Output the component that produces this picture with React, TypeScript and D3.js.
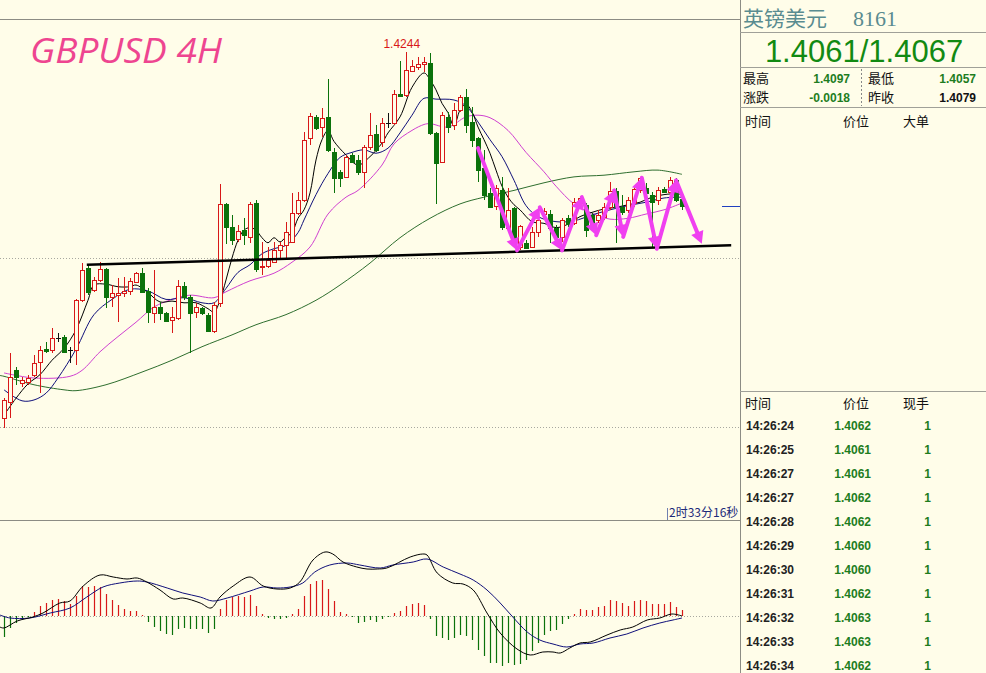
import React from 'react';
import * as d3 from 'd3';

// ---------- price data (GBPUSD 4H candles) ----------
const opens = [1.3811,1.3830,1.3867,1.3852,1.3853,1.3862,1.3877,1.3892,1.3891,1.3905,
1.3907,1.3891,1.3891,1.3950,1.3988,1.3962,1.3974,1.3987,1.3954,1.3956,
1.3959,1.3961,1.3972,1.3982,1.3961,1.3935,1.3942,1.3935,1.3927,1.3929,
1.3967,1.3954,1.3936,1.3941,1.3933,1.3914,1.3947,1.4064,1.4037,1.4022,
1.4033,1.4025,1.4065,1.3989,1.3991,1.3995,1.4009,1.4015,1.4019,1.4053,
1.4069,1.4142,1.4167,1.4155,1.4167,1.4125,1.4102,1.4096,1.4122,1.4116,
1.4102,1.4131,1.4147,1.4137,1.4160,1.4160,1.4194,1.4193,1.4221,1.4226,
1.4230,1.4231,1.4148,1.4114,1.4167,1.4157,1.4175,1.4191,1.4161,1.4142,
1.4107,1.4077,1.4062,1.4080,1.4036,1.4059,1.4013,1.4018,1.4013,1.4031,
1.4052,1.4052,1.4036,1.4025,1.4047,1.4041,1.4065,1.4063,1.4051,1.4045,
1.4049,1.4060,1.4079,1.4060,1.4057,1.4065,1.4080,1.4083,1.4075,1.4069,
1.4082,1.4078,1.4092,1.4070];
const highs = [1.3834,1.3888,1.3871,1.3859,1.3862,1.3885,1.3896,1.3901,1.3917,1.3911,
1.3909,1.3895,1.3952,1.3994,1.3992,1.3978,1.3995,1.3988,1.3968,1.3976,
1.3978,1.3976,1.3983,1.3988,1.3964,1.3986,1.3948,1.3936,1.3942,1.3974,
1.3972,1.3956,1.3947,1.3942,1.3935,1.3948,1.4088,1.4065,1.4051,1.4039,
1.4047,1.4066,1.4069,1.4019,1.4013,1.4019,1.4019,1.4043,1.4077,1.4078,
1.4149,1.4172,1.4169,1.4178,1.4212,1.4130,1.4104,1.4122,1.4124,1.4122,
1.4134,1.4172,1.4157,1.4166,1.4172,1.4199,1.4233,1.4244,1.4234,1.4238,
1.4238,1.4243,1.4149,1.4173,1.4173,1.4183,1.4193,1.4200,1.4179,1.4143,
1.4128,1.4083,1.4086,1.4096,1.4083,1.4060,1.4039,1.4021,1.4037,1.4060,
1.4059,1.4057,1.4039,1.4047,1.4051,1.4071,1.4072,1.4065,1.4053,1.4057,
1.4065,1.4090,1.4083,1.4075,1.4072,1.4084,1.4096,1.4089,1.4078,1.4084,
1.4084,1.4096,1.4095,1.4072];
const lows = [1.3799,1.3811,1.3850,1.3847,1.3850,1.3859,1.3840,1.3888,1.3888,1.3901,
1.3888,1.3876,1.3873,1.3948,1.3956,1.3960,1.3972,1.3941,1.3942,1.3924,
1.3954,1.3956,1.3970,1.3960,1.3923,1.3923,1.3927,1.3924,1.3911,1.3927,
1.3950,1.3888,1.3929,1.3933,1.3912,1.3911,1.3942,1.4017,1.4015,1.4019,
1.4015,1.4018,1.3983,1.3980,1.3988,1.3994,1.4000,1.4000,1.4018,1.4051,
1.4066,1.4134,1.4151,1.4143,1.4125,1.4077,1.4084,1.4095,1.4112,1.4098,
1.4083,1.4128,1.4125,1.4131,1.4154,1.4157,1.4191,1.4191,1.4220,1.4222,
1.4220,1.4146,1.4064,1.4112,1.4148,1.4151,1.4173,1.4148,1.4131,1.4090,
1.4069,1.4059,1.4057,1.4033,1.4031,1.4015,1.4009,1.4011,1.4012,1.4025,
1.4049,1.4018,1.4019,1.4019,1.4037,1.4039,1.4060,1.4025,1.4033,1.4041,
1.4045,1.4057,1.4018,1.4051,1.4053,1.4060,1.4077,1.4072,1.4013,1.4063,
1.4077,1.4072,1.4066,1.4057];
const closes = [1.3832,1.3859,1.3859,1.3856,1.3858,1.3876,1.3891,1.3890,1.3905,1.3905,
1.3889,1.3891,1.3950,1.3986,1.3960,1.3974,1.3987,1.3954,1.3959,1.3959,
1.3961,1.3973,1.3982,1.3960,1.3936,1.3942,1.3935,1.3925,1.3930,1.3967,
1.3954,1.3935,1.3942,1.3935,1.3914,1.3944,1.4064,1.4037,1.4021,1.4032,
1.4027,1.4064,1.3987,1.3991,1.3998,1.4009,1.4015,1.4031,1.4053,1.4069,
1.4140,1.4168,1.4154,1.4166,1.4128,1.4095,1.4095,1.4120,1.4114,1.4102,
1.4131,1.4146,1.4128,1.4160,1.4160,1.4194,1.4192,1.4222,1.4227,1.4230,
1.4232,1.4148,1.4112,1.4169,1.4155,1.4175,1.4191,1.4157,1.4140,1.4104,
1.4075,1.4060,1.4083,1.4037,1.4057,1.4018,1.4038,1.4012,1.4031,1.4045,
1.4056,1.4036,1.4025,1.4045,1.4040,1.4066,1.4071,1.4033,1.4039,1.4051,
1.4060,1.4079,1.4060,1.4054,1.4069,1.4082,1.4095,1.4077,1.4066,1.4080,
1.4078,1.4092,1.4069,1.4062];

// moving averages: [candle index, price]
const ma5: [number, number][] = [[0,1.3814],[2,1.3834],[4,1.3851],[6,1.3862],[8,1.3879],[10,1.3893],[12,1.3915],[14,1.3950],[15,1.3968],[17,1.3969],[19,1.3966],[21,1.3966],[22,1.3968],[24,1.3959],[26,1.3948],[28,1.3949],[30,1.3947],[32,1.3947],[34,1.3940],[35,1.3936],[36,1.3950],[37,1.3974],[38,1.4000],[39,1.4021],[40,1.4033],[41,1.4036],[42,1.4033],[43,1.4024],[44,1.4018],[45,1.4024],[46,1.4019],[47,1.4025],[48,1.4030],[49,1.4047],[50,1.4057],[51,1.4077],[52,1.4116],[53,1.4140],[54,1.4151],[55,1.4138],[57,1.4122],[59,1.4110],[61,1.4120],[63,1.4136],[64,1.4148],[66,1.4167],[68,1.4202],[70,1.4219],[71,1.4211],[72,1.4199],[73,1.4183],[74,1.4172],[75,1.4156],[76,1.4175],[77,1.4182],[78,1.4173],[79,1.4155],[80,1.4140],[81,1.4124],[82,1.4104],[83,1.4085],[84,1.4072],[85,1.4063],[86,1.4057],[88,1.4043],[90,1.4041],[92,1.4036],[94,1.4040],[96,1.4049],[98,1.4054],[100,1.4058],[102,1.4060],[104,1.4063],[106,1.4066],[108,1.4072],[110,1.4075],[112,1.4076],[113,1.4075]];
const ma10: [number, number][] = [[0,1.3844],[3,1.3831],[5,1.3832],[7,1.3840],[9,1.3858],[12,1.3892],[15,1.3933],[18,1.3951],[21,1.3963],[24,1.3961],[27,1.3951],[30,1.3953],[33,1.3947],[35,1.3947],[37,1.3964],[39,1.3983],[41,1.3992],[43,1.4005],[45,1.4011],[47,1.4015],[49,1.4030],[50,1.4045],[52,1.4075],[54,1.4100],[56,1.4119],[58,1.4125],[60,1.4128],[62,1.4124],[64,1.4130],[66,1.4148],[68,1.4169],[70,1.4189],[72,1.4188],[75,1.4187],[77,1.4180],[79,1.4161],[81,1.4140],[83,1.4120],[85,1.4092],[87,1.4062],[89,1.4049],[92,1.4043],[95,1.4044],[98,1.4051],[101,1.4057],[104,1.4062],[107,1.4066],[110,1.4071],[113,1.4072]];
const ma20: [number, number][] = [[0,1.3864],[5,1.3858],[11,1.3860],[13,1.3867],[16,1.3889],[19,1.3907],[22,1.3924],[25,1.3942],[28,1.3951],[31,1.3956],[35,1.3953],[37,1.3960],[41,1.3973],[45,1.3982],[48,1.3995],[51,1.4013],[54,1.4052],[57,1.4072],[59,1.4080],[63,1.4110],[65,1.4135],[68,1.4151],[70,1.4158],[71,1.4159],[74,1.4155],[77,1.4167],[79,1.4169],[81,1.4166],[84,1.4151],[87,1.4125],[90,1.4102],[92,1.4085],[95,1.4064],[98,1.4053],[101,1.4046],[104,1.4047],[107,1.4052],[110,1.4057],[113,1.4065]];
const ma60: [number, number][] = [[-0.7,1.3861],[0,1.3860],[5,1.3850],[10,1.3844],[12,1.3843],[17,1.3850],[23,1.3865],[28,1.3879],[33,1.3895],[38,1.3909],[42,1.3921],[47,1.3933],[52,1.3950],[56,1.3968],[61,1.3994],[66,1.4024],[71,1.4047],[76,1.4064],[80,1.4072],[85,1.4080],[90,1.4089],[95,1.4096],[100,1.4098],[105,1.4102],[109,1.4104],[113,1.4099]];

// annotations
const supportLine: [number, number][] = [[13.8, 1.3992], [121.2, 1.4015]];
const zigzag: [number, number][] = [[79,1.4130],[85.5,1.4009],[89.3,1.4060],[93,1.4009],[96.3,1.4072],[98.7,1.4027],[101.7,1.4080],[103.2,1.4025],[106.3,1.4095],[108.8,1.4011],[112,1.4092],[116.3,1.4017]];
const highLabel = { idx: 66.3, price: 1.4244, text: '1.4244' };
const chartTitle = 'GBPUSD 4H';
const lastPrice = 1.4062;
const countdown = '2时33分16秒';

// MACD
const macdHist = [-0.0021,-0.0012,-0.0007,-0.0003,-0.0001,0.0004,0.0010,0.0013,0.0016,0.0017,
0.0015,0.0012,0.0020,0.0030,0.0029,0.0030,0.0029,0.0022,0.0016,0.0011,
0.0007,0.0005,0.0005,0.0001,-0.0006,-0.0011,-0.0015,-0.0018,-0.0019,-0.0013,
-0.0012,-0.0013,-0.0013,-0.0013,-0.0017,-0.0013,0.0007,0.0016,0.0019,0.0020,
0.0019,0.0021,0.0010,0.0002,-0.0002,-0.0003,-0.0003,-0.0002,0.0002,0.0007,
0.0020,0.0032,0.0035,0.0036,0.0027,0.0015,0.0004,0.0002,-0.0001,-0.0007,
-0.0006,-0.0004,-0.0006,-0.0003,-0.0001,0.0003,0.0005,0.0010,0.0012,0.0013,
0.0011,-0.0003,-0.0020,-0.0022,-0.0024,-0.0022,-0.0019,-0.0020,-0.0024,-0.0034,
-0.0040,-0.0047,-0.0047,-0.0050,-0.0047,-0.0049,-0.0048,-0.0044,-0.0035,-0.0027,
-0.0019,-0.0015,-0.0014,-0.0008,-0.0003,0.0002,0.0007,0.0006,0.0006,0.0009,
0.0010,0.0016,0.0015,0.0013,0.0010,0.0015,0.0016,0.0015,0.0012,0.0012,
0.0012,0.0014,0.0009,0.0006];
const difLine: [number, number][] = [[-0.7,-0.0011],[0,-0.0012],[2.2,-0.0005],[4.8,-0.0001],[6.5,0.0003],[9.3,0.0013],[11,0.0015],[13.2,0.0030],[16,0.0041],[18.2,0.0039],[20.5,0.0037],[22.2,0.0038],[23.8,0.0034],[26,0.0026],[28.2,0.0017],[29.8,0.0018],[32.7,0.0013],[34.5,0.0008],[36,0.0019],[38.2,0.0030],[41,0.0039],[43.2,0.0030],[45.5,0.0027],[47.7,0.0028],[49.3,0.0034],[51.5,0.0056],[53.5,0.0064],[54.8,0.0062],[56.5,0.0054],[58.8,0.0049],[60.5,0.0047],[62.2,0.0047],[63.8,0.0048],[67.7,0.0059],[69.8,0.0062],[70.5,0.0061],[72.2,0.0043],[74.8,0.0033],[76.5,0.0032],[78.2,0.0026],[80.5,0.0003],[82.7,-0.0017],[85.5,-0.0033],[87.7,-0.0039],[89.8,-0.0036],[91.5,-0.0036],[92.7,-0.0037],[94.3,-0.0032],[96,-0.0027],[97.7,-0.0026],[100.5,-0.0019],[102.7,-0.0014],[104.8,-0.0011],[107.2,-0.0004],[109.3,-0.0002],[111.3,0.0002],[113,0.0000]];
const deaLine: [number, number][] = [[-0.7,0.0001],[1,-0.0002],[4.3,-0.0002],[7.7,0.0003],[11,0.0008],[13.8,0.0019],[16.5,0.0029],[19.3,0.0033],[22.2,0.0035],[23.8,0.0034],[27.2,0.0028],[29.8,0.0023],[32.7,0.0019],[34.8,0.0015],[37.2,0.0018],[41,0.0025],[43.2,0.0029],[45.5,0.0028],[47.7,0.0029],[49.8,0.0033],[51.8,0.0044],[54.3,0.0051],[57.2,0.0053],[59.3,0.0051],[62.7,0.0048],[64.8,0.0051],[68.2,0.0054],[70.5,0.0057],[73.2,0.0049],[76,0.0042],[78.2,0.0036],[80.5,0.0026],[82.7,0.0013],[84.8,-0.0001],[87.2,-0.0016],[89.3,-0.0024],[91.5,-0.0028],[93.8,-0.0031],[96,-0.0028],[98.2,-0.0027],[101,-0.0022],[103.8,-0.0018],[106.5,-0.0012],[109.3,-0.0007],[111.5,-0.0004],[113,-0.0002]];

// quote panel
const symbolName = '英镑美元';
const symbolCode = '8161';
const bidAsk = '1.4061/1.4067';
const statRows = [
  ['最高', '1.4097', '最低', '1.4057'],
  ['涨跌', '-0.0018', '昨收', '1.4079'],
];
const bigOrderHeaders = ['时间', '价位', '大单'];
const tickHeaders = ['时间', '价位', '现手'];
const tickTimes = ['14:26:24','14:26:25','14:26:27','14:26:27','14:26:28','14:26:29','14:26:30','14:26:31','14:26:32','14:26:33','14:26:34'];
const tickPrices = ['1.4062','1.4061','1.4061','1.4062','1.4062','1.4060','1.4060','1.4062','1.4063','1.4063','1.4062'];
const tickVols = [1,1,1,1,1,1,1,1,1,1,1];

const BG = '#FFFDE9';
const RED = '#D81818';
const GREEN = '#0B720B';
const CJK = '"Noto Sans CJK SC", sans-serif';
const SANS = '"Liberation Sans", Arial, sans-serif';

export default function App() {
  const W = 986, H = 673;
  const x = d3.scaleLinear().domain([0, 113]).range([4, 682]);
  const y = d3.scaleLinear().domain([1.38, 1.40]).range([427, 258]);
  const ym = d3.scaleLinear().domain([0, 0.001]).range([616, 606]);
  const lp = d3.line<[number, number]>().x(d => x(d[0])).y(d => y(d[1])).curve(d3.curveCatmullRom.alpha(0.5));
  const lm = d3.line<[number, number]>().x(d => x(d[0])).y(d => ym(d[1])).curve(d3.curveCatmullRom.alpha(0.5));

  const candles = opens.map((o, i) => {
    const c = closes[i], h = highs[i], l = lows[i];
    const cx = Math.round(x(i));
    const yo = Math.round(y(o)), yc = Math.round(y(c)), yh = Math.round(y(h)), yl = Math.round(y(l));
    const wx = cx + 0.5;
    if (c > o) {
      return (
        <g key={i}>
          <line x1={wx} x2={wx} y1={yh} y2={yc} stroke={RED} />
          <line x1={wx} x2={wx} y1={yo + 1} y2={yl} stroke={RED} />
          <rect x={cx - 1.5} y={yc + 0.5} width={4} height={Math.max(yo - yc, 1)} fill={BG} stroke={RED} />
        </g>
      );
    }
    if (c < o) {
      return (
        <g key={i}>
          <line x1={wx} x2={wx} y1={yh} y2={yl} stroke={GREEN} />
          <rect x={cx - 2} y={yo} width={5} height={Math.max(yc - yo, 1) + 1} fill={GREEN} />
        </g>
      );
    }
    return (
      <g key={i}>
        <line x1={wx} x2={wx} y1={yh} y2={yl} stroke="#111" />
        <line x1={cx - 2} x2={cx + 3} y1={yc + 0.5} y2={yc + 0.5} stroke="#111" />
      </g>
    );
  });

  const arrows = zigzag.slice(1).map((p1, k) => {
    const p0 = zigzag[k];
    const x0 = x(p0[0]), y0 = y(p0[1]), x1 = x(p1[0]), y1 = y(p1[1]);
    const dx = x1 - x0, dy = y1 - y0, L = Math.hypot(dx, dy);
    const ux = dx / L, uy = dy / L, nx = -uy, ny = ux;
    const hl = 12, hw = 6.5;
    const bx = x1 - ux * hl, by = y1 - uy * hl;
    return (
      <g key={k}>
        <line x1={x0} y1={y0} x2={bx + ux * 2} y2={by + uy * 2} stroke="#F040F0" strokeWidth={4} strokeLinecap="round" />
        <path d={`M${x1},${y1}L${bx + nx * hw},${by + ny * hw}L${bx - nx * hw},${by - ny * hw}Z`} fill="#F040F0" />
      </g>
    );
  });

  const hist = macdHist.map((v, i) => {
    const cx = Math.round(x(i)) + 0.5;
    return <line key={i} x1={cx} x2={cx} y1={ym(0)} y2={ym(v)} stroke={v >= 0 ? RED : GREEN} strokeWidth={1.2} />;
  });

  const rowY0 = 430;
  return (
    <svg width={W} height={H} style={{ position: 'absolute', left: 0, top: 0, background: BG }}>
      <rect x={0} y={0} width={W} height={H} fill={BG} />
      <defs>
        <clipPath id="mainClip"><rect x={0} y={20} width={740} height={500} /></clipPath>
        <clipPath id="macdClip"><rect x={0} y={521} width={740} height={152} /></clipPath>
      </defs>

      {/* frame lines */}
      <line x1={0} x2={740} y1={19.5} y2={19.5} stroke="#8c8c84" />
      <line x1={0} x2={740} y1={520.5} y2={520.5} stroke="#8c8c84" />
      <line x1={740.5} x2={740.5} y1={0} y2={H} stroke="#8c8c84" />

      {/* grid */}
      {[1.40, 1.38].map(p => (
        <line key={p} x1={0} x2={740} y1={Math.round(y(p)) + 0.5} y2={Math.round(y(p)) + 0.5} stroke="#a8a8a0" strokeDasharray="1,2" />
      ))}
      <line x1={0} x2={740} y1={ym(0) + 0.5} y2={ym(0) + 0.5} stroke="#a8a8a0" strokeDasharray="1,2" />

      <text x={30} y={63} fontFamily='"Open Sans", sans-serif' fontStyle="italic" fontSize={35} fill="#EE4590" textLength={192} lengthAdjust="spacingAndGlyphs">{chartTitle}</text>

      <g clipPath="url(#mainClip)">
        <path d={lp(ma60) || ''} fill="none" stroke="#2E6E2E" strokeWidth={1} />
        <path d={lp(ma20) || ''} fill="none" stroke="#D040D0" strokeWidth={1} />
        <path d={lp(ma10) || ''} fill="none" stroke="#10107A" strokeWidth={1} />
        <path d={lp(ma5) || ''} fill="none" stroke="#000" strokeWidth={1} />
        {candles}
        <line x1={x(supportLine[0][0])} y1={y(supportLine[0][1])} x2={x(supportLine[1][0])} y2={y(supportLine[1][1])} stroke="#000" strokeWidth={2.5} />
        {arrows}
        <text x={x(highLabel.idx)} y={48} textAnchor="middle" fontFamily={SANS} fontSize={12} fill={RED}>{highLabel.text}</text>
        <line x1={722} x2={740} y1={Math.round(y(lastPrice)) + 0.5} y2={Math.round(y(lastPrice)) + 0.5} stroke="#2040C0" />
      </g>

      {/* countdown */}
      <line x1={667.5} x2={667.5} y1={508} y2={520} stroke="#7080b0" />
      <text x={669} y={517} fontFamily={CJK} fontSize={12} fill="#1c2a7a">{countdown}</text>

      <g clipPath="url(#macdClip)">
        {hist}
        <path d={lm(deaLine) || ''} fill="none" stroke="#10107A" strokeWidth={1} />
        <path d={lm(difLine) || ''} fill="none" stroke="#000" strokeWidth={1} />
      </g>

      {/* quote panel */}
      <text x={743} y={26} fontFamily={CJK} fontSize={21} fill="#5A8C90">{symbolName}</text>
      <text x={853} y={26} fontFamily='"Liberation Serif", serif' fontSize={22} fill="#5A8C90">{symbolCode}</text>
      <line x1={740} x2={W} y1={32.5} y2={32.5} stroke="#a0a098" />
      <text x={864} y={62} textAnchor="middle" fontFamily={SANS} fontSize={31} fill="#128A12">{bidAsk}</text>
      <line x1={740} x2={W} y1={67.5} y2={67.5} stroke="#a0a098" />
      {statRows.map((r, k) => {
        const by = 83 + k * 19;
        return (
          <g key={k}>
            <text x={743} y={by} fontFamily={CJK} fontSize={13} fill="#111">{r[0]}</text>
            <text x={850} y={by} textAnchor="end" fontFamily={SANS} fontWeight="bold" fontSize={12} fill="#1E7D1E">{r[1]}</text>
            <text x={868} y={by} fontFamily={CJK} fontSize={13} fill="#111">{r[2]}</text>
            <text x={976} y={by} textAnchor="end" fontFamily={SANS} fontWeight="bold" fontSize={12} fill={k === 1 ? '#111' : '#1E7D1E'}>{r[3]}</text>
          </g>
        );
      })}
      <line x1={861.5} x2={861.5} y1={69} y2={106} stroke="#888" strokeDasharray="2,2" />
      <line x1={740} x2={W} y1={107.5} y2={107.5} stroke="#a0a098" />
      <text x={745} y={126} fontFamily={CJK} fontSize={13} fill="#111">{bigOrderHeaders[0]}</text>
      <text x={843} y={126} fontFamily={CJK} fontSize={13} fill="#111">{bigOrderHeaders[1]}</text>
      <text x={903} y={126} fontFamily={CJK} fontSize={13} fill="#111">{bigOrderHeaders[2]}</text>

      <line x1={740} x2={W} y1={391.5} y2={391.5} stroke="#a0a098" />
      <text x={745} y={408} fontFamily={CJK} fontSize={13} fill="#111">{tickHeaders[0]}</text>
      <text x={843} y={408} fontFamily={CJK} fontSize={13} fill="#111">{tickHeaders[1]}</text>
      <text x={903} y={408} fontFamily={CJK} fontSize={13} fill="#111">{tickHeaders[2]}</text>
      {tickTimes.map((t, k) => (
        <g key={k}>
          <text x={746} y={rowY0 + k * 24} fontFamily={SANS} fontWeight="bold" fontSize={12} fill="#222">{t}</text>
          <text x={871} y={rowY0 + k * 24} textAnchor="end" fontFamily={SANS} fontWeight="bold" fontSize={12} fill="#1E7D1E">{tickPrices[k]}</text>
          <text x={931} y={rowY0 + k * 24} textAnchor="end" fontFamily={SANS} fontWeight="bold" fontSize={12} fill="#1E7D1E">{tickVols[k]}</text>
        </g>
      ))}
    </svg>
  );
}
